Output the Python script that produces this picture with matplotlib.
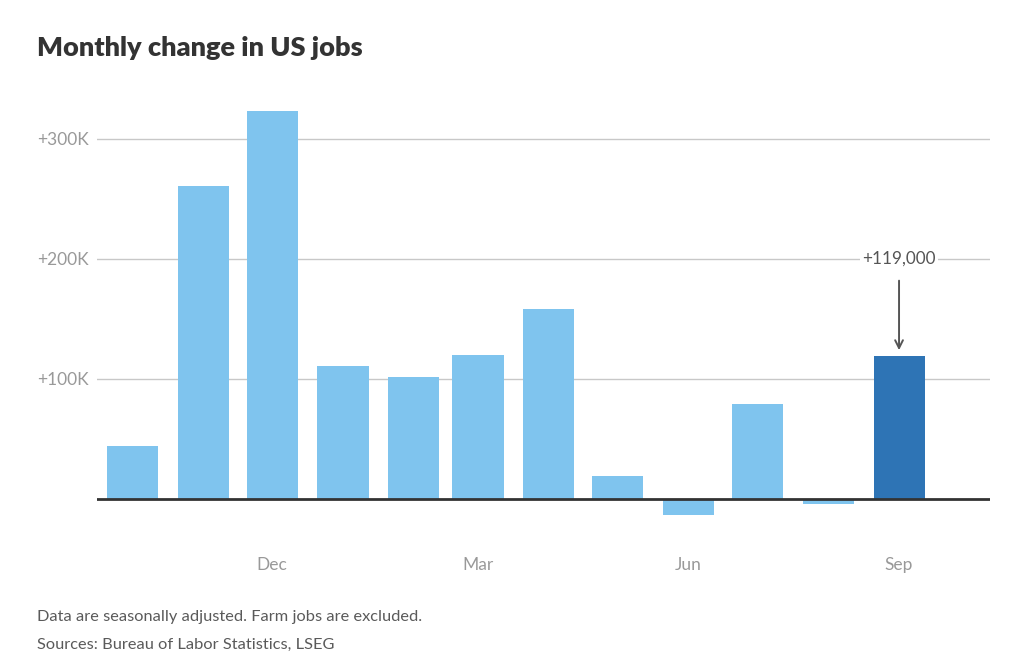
import datetime as dt

import matplotlib.pyplot as plt
import matplotlib.dates as mdates

# monthly change in nonfarm payrolls, thousands (Oct 2024 - Sep 2025)
months = [
    "2024-10", "2024-11", "2024-12", "2025-01", "2025-02", "2025-03",
    "2025-04", "2025-05", "2025-06", "2025-07", "2025-08", "2025-09",
]
changes = [44, 261, 323, 111, 102, 120, 158, 19, -13, 79, -4, 119]
tick_months = ["2024-12", "2025-03", "2025-06", "2025-09"]
tick_labels = ["Dec", "Mar", "Jun", "Sep"]
y_ticks = [100, 200, 300]
y_labels = ["+100K", "+200K", "+300K"]
note = "Data are seasonally adjusted. Farm jobs are excluded."
source = "Sources: Bureau of Labor Statistics, LSEG"

LIGHT = "#7fc4ee"
DARK = "#2e74b5"

plt.rcParams["font.family"] = ["Lato", "DejaVu Sans"]


def to_date(s):
    y, m = s.split("-")
    return dt.datetime(int(y), int(m), 1)


dates = [to_date(m) for m in months]
W, H = 1027, 663
fig = plt.figure(figsize=(W / 100, H / 100), dpi=100)

# axes box in pixels: x 97..990, y 100..540 (top-origin)
ax = fig.add_axes([97 / W, 1 - 540 / H, (990 - 97) / W, (540 - 100) / H])
colors = [LIGHT] * (len(dates) - 1) + [DARK]
ax.bar(dates, changes, width=22.3, color=colors, zorder=2)

ax.set_xlim(mdates.date2num(dt.datetime(2024, 9, 15, 12)),
            mdates.date2num(dt.datetime(2025, 10, 10, 18)))
ax.set_ylim(-34.2, 332.5)

ax.set_yticks(y_ticks)
ax.set_yticklabels(y_labels)
ax.set_xticks([to_date(m) for m in tick_months])
ax.set_xticklabels(tick_labels)
ax.tick_params(axis="both", length=0, labelsize=12.5, labelcolor="#999999")
ax.tick_params(axis="x", pad=12)
ax.tick_params(axis="y", pad=6)

ax.grid(axis="y", color="#c8c8c8", linewidth=1, zorder=0)
ax.axhline(0, color="#333333", linewidth=2, zorder=3)
for side in ["top", "right", "left", "bottom"]:
    ax.spines[side].set_visible(False)

# annotation for latest month
ax.annotate(
    "+119,000",
    xy=(dates[-1], changes[-1] + 5),
    xytext=(dates[-1], 200),
    ha="center", va="center", fontsize=12.3, color="#555555",
    bbox=dict(boxstyle="square,pad=0.15", fc="white", ec="none"),
    arrowprops=dict(arrowstyle="->", color="#555555", lw=1.4,
                    shrinkA=8, shrinkB=0, mutation_scale=14),
    zorder=4,
)

fig.text(37 / W, 1 - 48 / H, "Monthly change in US jobs", fontsize=19.5,
         fontweight="heavy", color="#333333", va="center", ha="left")
fig.text(37 / W, 1 - 617 / H, note, fontsize=11.8,
         color="#5a5a5a", va="center", ha="left")
fig.text(37 / W, 1 - 645 / H, source, fontsize=11.8,
         color="#5a5a5a", va="center", ha="left")

fig.savefig("out.png", dpi=100)
